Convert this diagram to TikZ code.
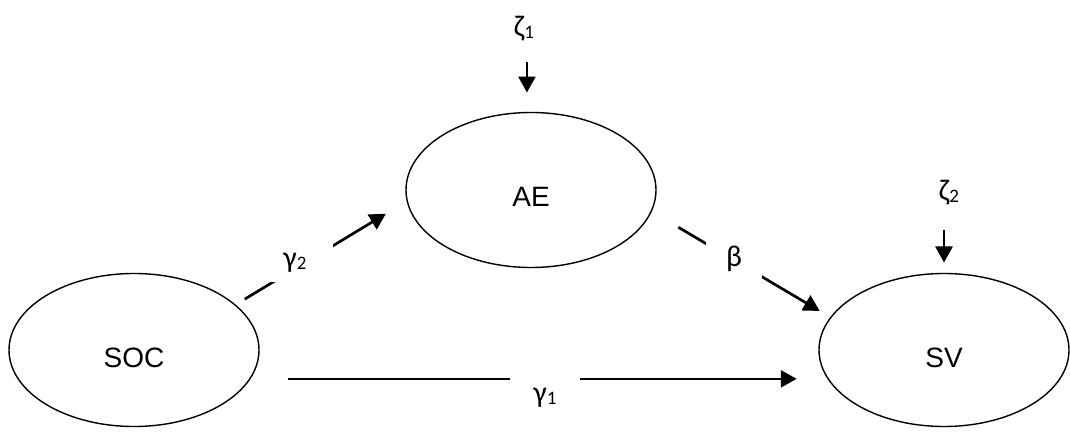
\documentclass[tikz,border=0pt]{standalone}
\usepackage{fontspec}
\setmainfont{Liberation Sans}
\newfontfamily\grkfont{Carlito}
\usepackage{tikz}
\usetikzlibrary{shapes.geometric, arrows.meta}

\newcommand{\greeklbl}[2]{{\grkfont\fontsize{30}{30}\selectfont #1\raisebox{-2pt}{\fontsize{19}{19}\selectfont #2}}}

\begin{document}
\begin{tikzpicture}[x=1pt, y=-1pt,
  latent/.style={draw, ellipse, line width=1.4pt, minimum width=250pt, minimum height=153pt,
    inner sep=0pt, outer sep=0pt, text height=34pt, text depth=0pt, font=\fontsize{28}{30}\selectfont},
  arr/.style={line width=2.7pt, -{Triangle[length=16pt,width=17pt]}},
  coef/.style={fill=white, inner sep=0pt}]
  \useasboundingbox (0,0) rectangle (1070,435);

  % Latent variables
  \node[latent] (soc) at (134,350) {SOC};
  \node[latent, minimum height=155pt] (ae) at (531,190) {AE};
  \node[latent] (sv) at (944,350) {SV};

  % Disturbances
  \node (z1) at (524,29) {\greeklbl{ζ}{1}};
  \node (z2) at (949,193) {\greeklbl{ζ}{2}};
  \draw[arr, shorten <=33pt, shorten >=20pt] (ae.93 |- z1) -- (ae.93);
  \draw[arr, shorten <=37pt, shorten >=11pt] (sv.north |- z2) -- (sv.north);

  % Paths
  \draw[arr, shorten <=38.5pt, shorten >=31.5pt] (soc.-14.1) -- (sv.194.1);
  \draw[arr, shorten <=11.3pt, shorten >=25pt] (soc.24.3) -- (ae.185.3);
  \draw[arr, shorten <=31.5pt, shorten >=12.9pt] (ae.-10.5) -- (sv.164.6);

  % Coefficients
  \node[coef, minimum width=70pt, minimum height=44pt] (g1) at (545,398) {\greeklbl{γ}{1}};
  \node[coef, minimum width=75pt, minimum height=38pt] (g2) at (295,263) {\greeklbl{γ}{2}};
  \node[coef, minimum width=56pt, minimum height=40pt] (beta) at (734,259) {\greeklbl{β}{}};
\end{tikzpicture}
\end{document}
